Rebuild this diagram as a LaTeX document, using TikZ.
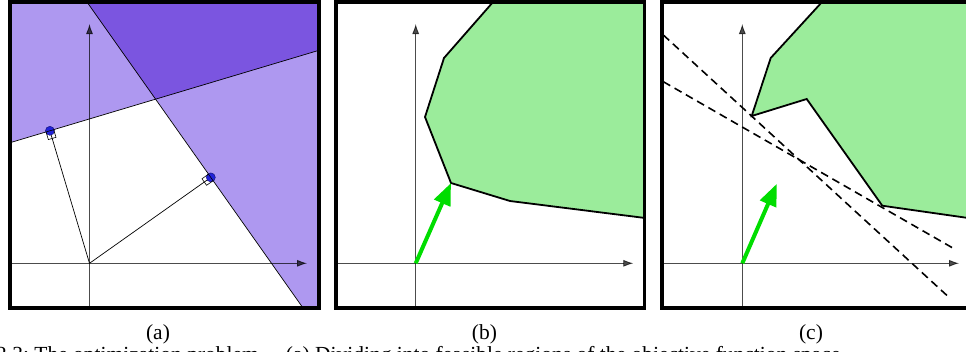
\documentclass[tikz,border=0pt]{standalone}
\usepackage{fontspec}
\setmainfont{Liberation Serif}
\usetikzlibrary{arrows.meta}
\definecolor{lightpurple}{HTML}{AE98F0}
\definecolor{darkpurple}{HTML}{7B55E0}
\definecolor{regiongreen}{HTML}{9BEC9B}
\definecolor{arrowgreen}{HTML}{00DD00}
\definecolor{dotblue}{HTML}{2222D8}
\begin{document}
\begin{tikzpicture}[x=1pt,y=-1pt,
  panelframe/.style={line width=3.5pt},
  axis/.style={line width=0.8pt,draw opacity=0.7,fill opacity=0.7,-{Latex[length=10pt,width=7pt]}},
  bound/.style={line width=0.7pt},
  perp/.style={line width=0.7pt},
  rightmark/.style={line width=0.6pt},
  regionedge/.style={line width=1.8pt,line join=miter},
  gradarrow/.style={draw=arrowgreen,line width=4pt,-{Triangle[length=22pt,width=17pt]}},
  cutline/.style={line width=1.6pt,dash pattern=on 8pt off 5pt},
  footdot/.style={circle,fill=dotblue,draw=dotblue!60!black,line width=0.5pt,inner sep=0pt,minimum size=9pt},
  sublabel/.style={font=\fontsize{21.5}{25}\selectfont,inner sep=0pt}
]
\useasboundingbox (0,0) rectangle (966,351);

% ---------------- panel (a) ----------------
\coordinate (Oa) at (89.5,263.3);
\coordinate (X) at (155.6,99.2);
\coordinate (F1) at (210.8,177.4);
\coordinate (F2) at (49.9,130.8);
\coordinate (L1a) at (78.5,-10);
\coordinate (L1b) at (311.5,320);
\coordinate (L2a) at (0,145.7);
\coordinate (L2b) at (330,47);
\coordinate (AxXa) at (10,263.3);
\coordinate (AxXtip) at (307,263.3);
\coordinate (AxYa) at (89.5,308);
\coordinate (AxYtip) at (89.5,24);
\begin{scope}
  \clip (10,1.75) rectangle (319,308);
  \fill[lightpurple] (0,0) rectangle (330,320);
  \fill[white] (L2a) -- (X) -- (L1b) -- (0,320) -- cycle;
  \fill[darkpurple] (X) -- (L1a) -- (330,-10) -- (L2b) -- cycle;
  \draw[axis] (AxXa) -- (AxXtip);
  \draw[axis] (AxYa) -- (AxYtip);
  \draw[bound] (L1a) -- (L1b);
  \draw[bound] (L2a) -- (L2b);
  \draw[perp] (Oa) -- (F1);
  \draw[perp] (Oa) -- (F2);
  \node[footdot] (P1) at (F1) {};
  \node[footdot] (P2) at (F2) {};
  \draw[rightmark] (53.7,129.65) -- (46.07,131.95) -- (48.36,139.6) -- (56.0,137.3) -- cycle;
  \draw[rightmark] (213.1,180.7) -- (208.5,174.1) -- (202.0,178.8) -- (206.6,185.3) -- cycle;
\end{scope}
\draw[panelframe] (10,1.75) rectangle (319,308);
\node[sublabel] (capa) at (158,334) {(a)};

% ---------------- panel (b) ----------------
\coordinate (Ob) at (415.7,263.3);
\coordinate (Db) at (451,183);
\begin{scope}
  \clip (335.8,1.75) rectangle (644.3,308);
  \fill[regiongreen] (498.3,-4) -- (444,58) -- (425,117) -- (Db) -- (510,201) -- (650,218.6) -- (650,-4) -- cycle;
  \draw[regionedge] (498.3,-4) -- (444,58) -- (425,117) -- (Db) -- (510,201) -- (650,218.6);
  \draw[axis] (335.8,263.3) -- (633.3,263.3);
  \draw[axis] (415.7,308) -- (415.7,24);
  \draw[gradarrow] (Ob) -- (Db);
\end{scope}
\draw[panelframe] (335.8,1.75) rectangle (644.3,308);
\node[sublabel] (capb) at (484.5,334) {(b)};

% ---------------- panel (c) ----------------
\coordinate (Oc) at (742.3,263.3);
\coordinate (Tc) at (776.8,183.8);
\coordinate (D1a) at (663.3,35);
\coordinate (D1b) at (948.3,296.7);
\coordinate (D2a) at (663.3,81.7);
\coordinate (D2b) at (953.3,248.3);
\begin{scope}
  \clip (661.8,1.75) rectangle (975,308);
  \fill[regiongreen] (827.5,-4) -- (770.7,58) -- (751.7,116) -- (806.7,99) -- (882.3,205.7) -- (980,219.7) -- (980,-4) -- cycle;
  \draw[regionedge] (827.5,-4) -- (770.7,58) -- (751.7,116) -- (806.7,99) -- (882.3,205.7) -- (980,219.7);
  \draw[axis] (661.8,263.3) -- (959,263.3);
  \draw[axis] (742.3,308) -- (742.3,24);
  \draw[cutline] (D1a) -- (D1b);
  \draw[cutline] (D2a) -- (D2b);
  \draw[gradarrow] (Oc) -- (Tc);
\end{scope}
\draw[panelframe] (661.8,1.75) rectangle (975,308);
\node[sublabel] (capc) at (811,334) {(c)};

% ---------------- cut-off caption line ----------------
\node[sublabel,anchor=base west] (caption) at (-4,361) {2.3:\ The optimization problem.\quad (a) Dividing into feasible regions of the objective function space};
\end{tikzpicture}
\end{document}
